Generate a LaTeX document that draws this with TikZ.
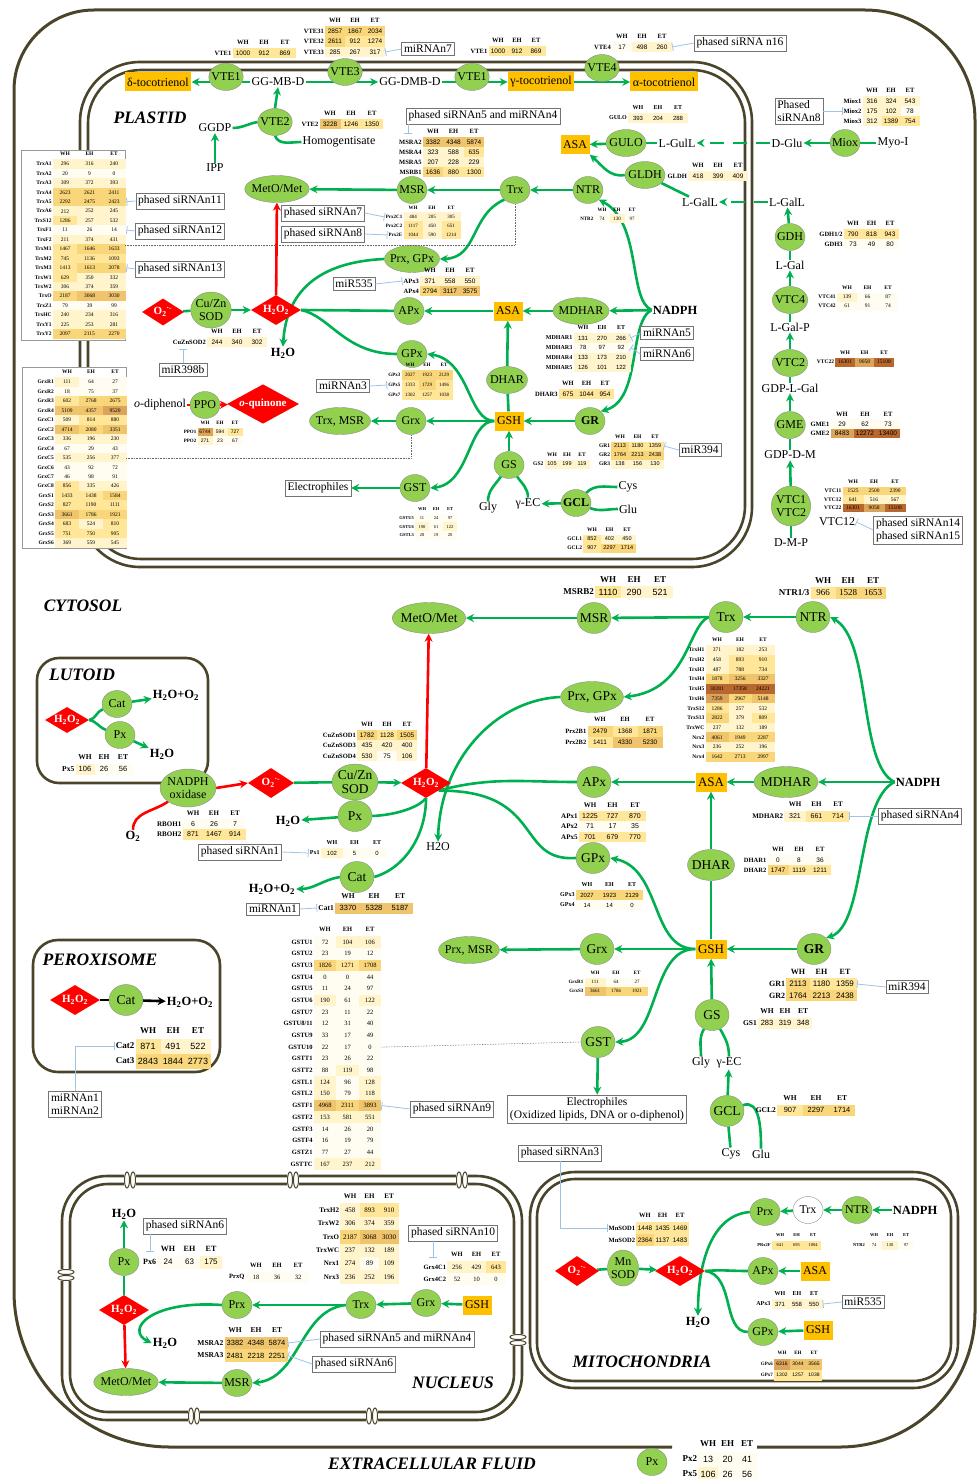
\documentclass[tikz,border=0pt]{standalone}
\usepackage{fontspec}
\setmainfont{Liberation Serif}
\setsansfont{Liberation Sans}
\usetikzlibrary{shapes.geometric,arrows.meta}
\pgfdeclarelayer{memb}
\pgfdeclarelayer{back}
\pgfsetlayers{memb,back,main}

\definecolor{lgr}{HTML}{92D050}
\definecolor{dgr}{HTML}{00B050}
\definecolor{org}{HTML}{FFC000}
\definecolor{mbc}{HTML}{4A452A}
\definecolor{inhc}{HTML}{9DC3E6}
\definecolor{hmA}{HTML}{FFFDF2}
\definecolor{hmB}{HTML}{FFF4CC}
\definecolor{hmC}{HTML}{FFE699}
\definecolor{hmD}{HTML}{FAD67A}
\definecolor{hmE}{HTML}{F0C46C}
\definecolor{hmF}{HTML}{DCA45A}
\definecolor{hmG}{HTML}{B8682E}

% heat colour of one value
\newcommand{\hmcol}[1]{%
  \ifnum#1<100\relax\def\hmc{hmA}%
  \else\ifnum#1<600\relax\def\hmc{hmB}%
  \else\ifnum#1<1500\relax\def\hmc{hmC}%
  \else\ifnum#1<3000\relax\def\hmc{hmD}%
  \else\ifnum#1<6000\relax\def\hmc{hmE}%
  \else\ifnum#1<12000\relax\def\hmc{hmF}%
  \else\def\hmc{hmG}\fi\fi\fi\fi\fi\fi}

% name, x of WH column, y of first row, column width, row height, font size, family, rows
\newcommand{\hmtab}[8]{%
  \foreach \hd [count=\k from 0] in {WH,EH,ET}
    \node[inner sep=0pt,font={\fontsize{#6}{#6}\selectfont\bfseries}] at ({#2+\k*#4},{#3-#5-0.5}) {\hd};
  \foreach \lab/\va/\vb/\vc [count=\i] in {#8} {
    \pgfmathsetmacro\yy{#3+(\i-1)*#5}
    \node[anchor=east,inner sep=1pt,font={\fontsize{#6}{#6}\selectfont\bfseries}] (#1-l\i) at ({#2-#4/2},\yy) {\lab};
    \hmcol{\va}
    \node[hmcell,fill=\hmc,minimum width=#4,minimum height=#5,font={#7\fontsize{#6}{#6}\selectfont}] at (#2,\yy) {\va};
    \hmcol{\vb}
    \node[hmcell,fill=\hmc,minimum width=#4,minimum height=#5,font={#7\fontsize{#6}{#6}\selectfont}] at ({#2+#4},\yy) {\vb};
    \hmcol{\vc}
    \node[hmcell,fill=\hmc,minimum width=#4,minimum height=#5,font={#7\fontsize{#6}{#6}\selectfont}] (#1-\i) at ({#2+2*#4},\yy) {\vc};
  }}

\begin{document}
\begin{tikzpicture}[x=1pt,y=-1pt,
  en/.style={ellipse,draw=black!45,fill=lgr,inner xsep=-2.5pt,inner ysep=0pt,minimum width=30,minimum height=27,font=\fontsize{12}{13}\selectfont},
  enb/.style={en,font=\fontsize{12}{13}\selectfont\bfseries},
  cen/.style={en,minimum width=34,minimum height=31,font=\fontsize{13.5}{14}\selectfont},
  ros/.style={diamond,aspect=1.6,fill=red,text=white,inner sep=0pt,minimum width=50,minimum height=30,font=\fontsize{11}{12}\selectfont\bfseries},
  sub/.style={rectangle,fill=org,inner sep=2.5pt,minimum height=19,font=\fontsize{12}{13}\selectfont},
  met/.style={inner sep=1pt,font=\fontsize{12}{13}\selectfont},
  metb/.style={inner sep=1pt,font=\fontsize{12.5}{13}\selectfont\bfseries},
  sir/.style={rectangle,draw=black!55,fill=white,inner sep=2.5pt,align=left,font=\fontsize{11.5}{13}\selectfont},
  comp/.style={font=\fontsize{17.5}{18}\selectfont\bfseries\itshape},
  ga/.style={draw=dgr,line width=2.6pt,-{Stealth[length=8pt,width=8pt]}},
  gl/.style={draw=dgr,line width=2.6pt},
  gd/.style={ga,dash pattern=on 14pt off 9pt},
  ra/.style={draw=red,line width=2.6pt,-{Stealth[length=8pt,width=8pt]}},
  rl/.style={draw=red,line width=2.6pt},
  ka/.style={draw=black,line width=2.6pt,-{Stealth[length=8pt,width=8pt]}},
  inh/.style={draw=inhc,line width=0.8pt,-{Bar[width=8pt]}},
  dotl/.style={draw=black!60,densely dotted,line width=0.6pt},
  mb/.style={draw=mbc,line width=2.6pt},
  hmcell/.style={rectangle,inner sep=0pt}]
\useasboundingbox (0,0) rectangle (977,1479);

\begin{pgfonlayer}{memb}
  % cell
  \draw[mb,line width=3pt] (757,1447) -- (840,1447) arc[start angle=90,end angle=0,radius=135] -- (975,120)
    arc[start angle=0,end angle=-90,radius=110] -- (94,10) arc[start angle=270,end angle=180,radius=80]
    -- (14,1291) arc[start angle=180,end angle=90,radius=156] -- (672,1447);
  % plastid
  \draw[mb,rounded corners=60] (80,62) rectangle (752,567);
  \draw[mb,rounded corners=53] (88,70) rectangle (745,559);
  % nucleus
  \draw[mb,rounded corners=45] (62,1176) rectangle (522,1420);
  \draw[mb,rounded corners=38] (70,1184) rectangle (514,1412);
  \foreach \px in {130,293,462} {
    \fill[white] (\px-6,1171) rectangle (\px+6,1189);
    \draw[mbc,line width=1pt] (\px-3,1180) ellipse (2.5 and 8) (\px+3,1180) ellipse (2.5 and 8);
  }
  \foreach \px in {194,372} {
    \fill[white] (\px-6,1407) rectangle (\px+6,1425);
    \draw[mbc,line width=1pt] (\px-3,1416) ellipse (2.5 and 8) (\px+3,1416) ellipse (2.5 and 8);
  }
  \foreach \px/\py in {66/1275,518/1340} {
    \fill[white] (\px-9,\py-6) rectangle (\px+9,\py+6);
    \draw[mbc,line width=1pt] (\px,\py-3) ellipse (8 and 2.5) (\px,\py+3) ellipse (8 and 2.5);
  }
  % mitochondria
  \draw[mb,rounded corners=45] (530,1172) rectangle (958,1388);
  \draw[mb,rounded corners=38] (537,1179) rectangle (951,1381);
  % lutoid, peroxisome
  \draw[mb,rounded corners=22] (37,658) rectangle (208,783);
  \draw[mb,rounded corners=25] (33,940) rectangle (220,1072);
\end{pgfonlayer}

% plastid
\node[comp] (plastid) at (150,118) {PLASTID};
\node[sub] (dtoc) at (158,82) {δ-tocotrienol};
\node[en] (vtea) at (226,77) {VTE1};
\node[met] (ggmb) at (278,82) {GG-MB-D};
\node[en] (vtec) at (345,72) {VTE3};
\node[met] (ggdmb) at (410,82) {GG-DMB-D};
\node[en] (vteb) at (472,77) {VTE1};
\node[sub] (gtoc) at (541,82) {γ-tocotrienol};
\node[en] (vted) at (602,68) {VTE4};
\node[sub] (atoc) at (664,82) {α-tocotrienol};
\node[met] (ggdp) at (215,128) {GGDP};
\node[met] (ipp) at (215,168) {IPP};
\node[en] (vte2) at (275,122) {VTE2};
\node[met] (homo) at (339,142) {Homogentisate};
\node[sir] (mir7) at (428,49) {miRNAn7};
\node[sir] (sir16) at (740,43) {phased siRNA n16};

\node[en,minimum width=60] (pmet) at (277,189) {MetO/Met};
\node[en] (pmsr) at (412,190) {MSR};
\node[en] (ptrx) at (515,190) {Trx};
\node[en] (pntr) at (588,190) {NTR};
\node[sir] (sir7) at (323,213) {phased siRNAn7};
\node[sir] (sir8) at (323,234) {phased siRNAn8};
\node[sir] (sir5p) at (483,116) {phased siRNAn5 and miRNAn4};
\node[sir] (sir11) at (180,201) {phased siRNAn11};
\node[sir] (sir12) at (180,231) {phased siRNAn12};
\node[sir] (sir13) at (180,269) {phased siRNAn13};
\node[en] (pprg) at (412,259) {Prx, GPx};
\node[sir] (mir535p) at (354,284) {miR535};
\node[en] (papx) at (409,311) {APx};
\node[sub] (pasa) at (508,311) {ASA};
\node[en] (pmdhar) at (581,311) {MDHAR};
\node[metb] (pnadph) at (675,310) {NADPH};
\node[sir] (mir5) at (667,333) {miRNAn5};
\node[sir] (mir6) at (667,354) {miRNAn6};
\node[en] (pgpx) at (412,354) {GPx};
\node[sir] (mir3) at (343,386) {miRNAn3};
\node[en] (pdhar) at (507,380) {DHAR};
\node[en] (ptm) at (340,421) {Trx, MSR};
\node[en] (pgrx) at (411,421) {Grx};
\node[sub] (pgsh) at (509,421) {GSH};
\node[enb] (pgr) at (590,421) {GR};
\node[sir] (mir394p) at (700,450) {miR394};
\node[en] (pgs) at (509,465) {GS};
\node[met] (pgly) at (488,508) {Gly};
\node[met] (pgec) at (528,504) {γ-EC};
\node[enb] (pgcl) at (576,503) {GCL};
\node[met] (pcys) at (628,487) {Cys};
\node[met] (pglu) at (628,509) {Glu};
\node[en] (pgst) at (415,488) {GST};
\node[sir] (pelec) at (318,488) {Electrophiles};
\node[ros,minimum width=42,minimum height=27] (po2) at (163,312) {O\textsubscript{2}\textsuperscript{·-}};
\node[en,align=center,inner xsep=-1pt,minimum height=36] (psod) at (211,310) {Cu/Zn\\SOD};
\node[ros] (ph2o2) at (276,310) {H\textsubscript{2}O\textsubscript{2}};
\node[metb] (ph2o) at (283,353) {H\textsubscript{2}O};
\node[sir] (mir398) at (183,370) {miR398b};
\node[met] (podi) at (160,405) {\textit{o}-diphenol};
\node[en] (pppo) at (205,405) {PPO};
\node[ros,minimum width=72,minimum height=30] (poq) at (263,404) {\textit{o}-quinone};

\node[sub] (asaa) at (575,145) {ASA};
\node[en] (gulo) at (626,143) {GULO};
\node[met] (lgull) at (677,143) {L-GulL};
\node[en] (gldh) at (645,175) {GLDH};
\node[met] (lgall) at (700,202) {L-GalL};
\node[met] (dglu) at (787,143) {D-Glu};
\node[en] (miox) at (845,143) {Miox};
\node[met] (myoi) at (893,143) {Myo-I};
\node[sir] (sir8p) at (799,111) {Phased\\siRNAn8};
\node[met] (lgallo) at (787,202) {L-GalL};
\node[en] (gdh) at (790,237) {GDH};
\node[met] (lgal) at (790,265) {L-Gal};
\node[en] (vtcf) at (790,300) {VTC4};
\node[met] (lgalp) at (790,327) {L-Gal-P};
\node[en] (vtcb) at (790,363) {VTC2};
\node[met] (gdplg) at (790,388) {GDP-L-Gal};
\node[en] (gme) at (790,425) {GME};
\node[met] (gdpdm) at (790,455) {GDP-D-M};
\node[en,align=center,inner xsep=-1pt,minimum height=40] (vtca) at (791,506) {VTC1\\VTC2};
\node[met] (dmp) at (791,543) {D-M-P};
\node[met] (vtctxt) at (837,522) {VTC12};
\node[sir] (sir14) at (918,530) {phased siRNAn14\\phased siRNAn15};

% cytosol
\node[comp] (cyto) at (83,606) {CYTOSOL};
\node[cen,minimum width=66] (cmet) at (429,618) {MetO/Met};
\node[cen] (cmsr) at (594,618) {MSR};
\node[cen] (ctrx) at (726,617) {Trx};
\node[cen] (cntr) at (813,617) {NTR};
\node[cen] (cprg) at (592,697) {Prx, GPx};
\node[cen] (capx) at (594,782) {APx};
\node[sub,font=\fontsize{13}{14}\selectfont] (casa) at (711,782) {ASA};
\node[cen] (cmdhar) at (786,782) {MDHAR};
\node[metb] (cnadph) at (918,782) {NADPH};
\node[sir] (sir4) at (920,816) {phased siRNAn4};
\node[cen] (cdhar) at (711,865) {DHAR};
\node[cen] (cgpx) at (593,858) {GPx};
\node[cen] (cgrx) at (597,949) {Grx};
\node[en] (cpm) at (469,950) {Prx, MSR};
\node[sub,font=\fontsize{13}{14}\selectfont] (cgsh) at (711,949) {GSH};
\node[cen,font=\fontsize{13.5}{14}\selectfont\bfseries] (cgr) at (814,949) {GR};
\node[sir] (mir394c) at (907,987) {miR394};
\node[cen] (cgs) at (712,1015) {GS};
\node[met] (cgly) at (701,1063) {Gly};
\node[met] (cgec) at (729,1063) {γ-EC};
\node[cen] (cgcl) at (727,1111) {GCL};
\node[met] (ccys) at (731,1154) {Cys};
\node[met] (cglu) at (761,1154) {Glu};
\node[cen] (cgst) at (598,1042) {GST};
\node[sir,align=center] (celec) at (597,1109) {Electrophiles\\(Oxidized lipids, DNA or o-diphenol)};
\node[sir] (sir9) at (452,1109) {phased siRNAn9};
\node[sir] (sir3) at (560,1153) {phased siRNAn3};
\node[ros] (ch2o2) at (426,783) {H\textsubscript{2}O\textsubscript{2}};
\node[cen,align=center,inner xsep=-1pt,minimum height=36] (csod) at (355,782) {Cu/Zn\\SOD};
\node[ros,minimum width=46] (co2) at (271,783) {O\textsubscript{2}\textsuperscript{·-}};
\node[en,align=center,inner xsep=-1pt,minimum height=38,minimum width=56] (cnox) at (188,788) {NADPH\\oxidase};
\node[metb] (co2t) at (133,836) {O\textsubscript{2}};
\node[cen] (cpx) at (355,816) {Px};
\node[metb] (ch2ob) at (288,821) {H\textsubscript{2}O};
\node[sir] (sir1) at (240,852) {phased siRNAn1};
\node[cen] (ccat) at (357,877) {Cat};
\node[metb] (ch2oo) at (272,889) {H\textsubscript{2}O+O\textsubscript{2}};
\node[sir] (mirn1) at (273,909) {miRNAn1};
\node[met] (ch2oc) at (438,847) {H2O};

% lutoid
\node[comp] (lutoid) at (82,675) {LUTOID};
\node[ros,minimum width=44,minimum height=26] (lh2o2) at (67,720) {H\textsubscript{2}O\textsubscript{2}};
\node[en] (lcat) at (117,704) {Cat};
\node[metb] (lh2oo) at (176,695) {H\textsubscript{2}O+O\textsubscript{2}};
\node[en] (lpx) at (120,735) {Px};
\node[metb] (lh2o) at (162,754) {H\textsubscript{2}O};

% peroxisome
\node[comp] (perox) at (100,960) {PEROXISOME};
\node[ros] (xh2o2) at (75,1000) {H\textsubscript{2}O\textsubscript{2}};
\node[cen] (xcat) at (126,1000) {Cat};
\node[metb] (xh2oo) at (190,1002) {H\textsubscript{2}O+O\textsubscript{2}};
\node[sir] (xmir) at (75,1104) {miRNAn1\\miRNAn2};

% nucleus
\node[comp] (nucl) at (453,1383) {NUCLEUS};
\node[metb] (nh2oa) at (124,1214) {H\textsubscript{2}O};
\node[en] (npx) at (124,1262) {Px};
\node[sir] (sir6a) at (185,1226) {phased siRNAn6};
\node[ros] (nh2o2) at (124,1310) {H\textsubscript{2}O\textsubscript{2}};
\node[en,minimum width=64] (nmet) at (126,1382) {MetO/Met};
\node[en] (nmsr) at (237,1383) {MSR};
\node[en] (nprx) at (237,1305) {Prx};
\node[metb] (nh2ob) at (165,1343) {H\textsubscript{2}O};
\node[en] (ntrx) at (361,1305) {Trx};
\node[en] (ngrx) at (426,1303) {Grx};
\node[sub] (ngsh) at (477,1305) {GSH};
\node[sir] (sir10) at (453,1233) {phased siRNAn10};
\node[sir] (sir5n) at (397,1339) {phased siRNAn5 and miRNAn4};
\node[sir] (sir6b) at (354,1364) {phased siRNAn6};

% mitochondria
\node[comp] (mito) at (642,1362) {MITOCHONDRIA};
\node[ros,minimum width=44] (mo2) at (577,1271) {O\textsubscript{2}\textsuperscript{·-}};
\node[en,align=center,inner xsep=-1pt,minimum height=36] (msod) at (623,1268) {Mn\\SOD};
\node[ros] (mh2o2) at (680,1271) {H\textsubscript{2}O\textsubscript{2}};
\node[metb] (mh2o) at (698,1322) {H\textsubscript{2}O};
\node[en] (mprx) at (765,1212) {Prx};
\node[en,fill=white] (mtrx) at (808,1210) {Trx};
\node[en] (mntr) at (857,1210) {NTR};
\node[metb] (mnadph) at (915,1210) {NADPH};
\node[en] (mapx) at (763,1271) {APx};
\node[sub] (masa) at (815,1271) {ASA};
\node[sir] (mir535m) at (863,1302) {miR535};
\node[en] (mgpx) at (763,1332) {GPx};
\node[sub] (mgsh) at (818,1330) {GSH};

% extracellular
\node[comp] (extra) at (432,1464) {EXTRACELLULAR FLUID};
\node[en] (epx) at (652,1462) {Px};

% tables
\hmtab{tvteA}{243}{53}{21}{10}{6.5}{\sffamily}{VTE1/1000/912/869}
\hmtab{tvteC}{335}{31}{20}{10.5}{6.5}{\sffamily}{VTE31/2857/1867/2034,VTE32/2611/912/1274,VTE33/285/267/317}
\hmtab{tvteB}{498}{51}{19}{10}{6.5}{\sffamily}{VTE1/1000/912/869}
\hmtab{tvteD}{622}{47}{20}{10}{6.5}{\sffamily}{VTE4/17/498/260}
\hmtab{tvteE}{330}{124}{21}{10}{6.5}{\sffamily}{VTE2/3228/1246/1350}
\draw[black!40,fill=white] (21,150) rectangle (125,340);
\hmtab{ttrxp}{65}{164}{24.5}{9.44}{5.5}{\rmfamily}{TrxA1/296/316/240,TrxA2/20/9/0,TrxA3/309/372/393,TrxA4/2623/2621/2411,TrxA5/2292/2475/2423,TrxA6/212/252/245,TrxS12/1286/257/532,TrxF1/11/26/14,TrxF2/211/374/431,TrxM1/1467/1646/1633,TrxM2/745/1136/1093,TrxM3/1413/1613/2078,TrxW1/629/350/332,TrxW2/306/374/359,TrxO/2187/3068/3030,TrxZ1/79/39/99,TrxHC/240/234/316,TrxY1/225/253/281,TrxY2/2097/2115/2270}
\draw[black!40,fill=white] (22,367) rectangle (126,548);
\hmtab{tgrxp}{67}{382}{24}{9.47}{5.5}{\rmfamily}{GrxR1/111/64/27,GrxR2/18/75/37,GrxR3/602/2768/2675,GrxR4/5109/4357/9520,GrxC1/509/814/880,GrxC2/4714/2080/3351,GrxC3/336/196/230,GrxC4/67/29/43,GrxC5/535/256/377,GrxC6/43/92/72,GrxC7/46/98/91,GrxC8/856/335/426,GrxS1/1433/1438/1584,GrxS2/827/1190/1111,GrxS3/3661/1786/1921,GrxS4/683/524/810,GrxS5/751/750/905,GrxS6/369/559/545}
\hmtab{tprxc}{413}{217}{19}{9}{5}{\rmfamily}{Prx2C1/484/205/305,Prx2C2/1117/450/651,Prx2E/1044/590/1214}
\hmtab{tmsra}{433}{142}{20.5}{10}{6.5}{\sffamily}{MSRA2/3382/4348/5874,MSRA4/323/588/635,MSRA5/207/228/229,MSRB1/1636/880/1300}
\hmtab{tntrp}{602}{219}{15}{9}{5}{\rmfamily}{NTR2/74/130/97}
\hmtab{tapxp}{430}{281}{20}{10}{6.5}{\sffamily}{APx3/371/558/550,APx4/2794/3117/3575}
\hmtab{tmdp}{583}{338}{19}{9.7}{6}{\sffamily}{MDHAR1/131/270/266,MDHAR3/78/97/92,MDHAR4/133/173/210,MDHAR5/126/101/122}
\hmtab{tgpxp}{410}{375}{17}{10}{5}{\rmfamily}{GPx3/2027/1923/2129,GPx5/1333/1729/1496,GPx7/1302/1257/1038}
\hmtab{tdhp}{568}{394}{18.5}{10}{6.5}{\sffamily}{DHAR3/675/1044/954}
\hmtab{tgrp}{620}{446}{17.5}{9}{5.5}{\sffamily}{GR1/2113/1180/1359,GR2/1764/2213/2438,GR3/138/156/130}
\hmtab{tgsp}{552}{464}{15}{9}{5.5}{\sffamily}{GS2/105/199/119}
\hmtab{tgclp}{592}{539}{17.5}{9}{5.5}{\sffamily}{GCL1/852/402/450,GCL2/907/2297/1714}
\hmtab{tgstp}{422}{518}{14}{8.7}{4.5}{\rmfamily}{GSTU5/11/24/97,GSTU6/190/61/122,GSTL3/28/19/20}
\hmtab{tsodp}{217}{342}{20}{10}{6.5}{\sffamily}{CuZnSOD2/244/340/302}
\hmtab{tppo}{205}{432}{15}{8.5}{5}{\sffamily}{PPO1/6744/594/727,PPO2/271/23/67}
\hmtab{tmiox}{872}{101}{19}{10}{6.5}{\sffamily}{Miox1/316/324/543,Miox2/175/102/78,Miox3/312/1389/754}
\hmtab{tgulo}{638}{118}{20}{10}{6}{\sffamily}{GULO/393/204/288}
\hmtab{tgldh}{698}{176}{20}{10}{6.5}{\sffamily}{GLDH/418/399/409}
\hmtab{tgdh}{853}{234}{18.5}{10}{6.5}{\sffamily}{{GDH1/2}/790/818/943,GDH3/73/49/80}
\hmtab{tvtcf}{847}{297}{20.5}{9}{5.5}{\rmfamily}{VTC41/139/66/87,VTC42/61/91/74}
\hmtab{tvtcb}{845}{362}{19.5}{9}{5.5}{\rmfamily}{VTC22/16301/9058/15108}
\hmtab{tgme}{842}{424}{23}{9.5}{6.5}{\sffamily}{GME1/29/62/73,GME2/8483/12272/13400}
\hmtab{tvtca}{853}{491}{21}{8.5}{5.5}{\rmfamily}{VTC11/1525/2500/2390,VTC12/641/516/567,VTC22/16301/9058/15108}

\hmtab{tmsrb}{608}{592}{26}{12}{9}{\sffamily}{MSRB2/1110/290/521}
\hmtab{tntrc}{823}{593}{25}{12}{9}{\rmfamily}{{NTR1/3}/966/1528/1653}
\hmtab{ttrxc}{717}{650}{23}{9.7}{5.5}{\rmfamily}{TrxH1/371/182/253,TrxH2/458/893/910,TrxH3/487/788/734,TrxH4/1878/3256/3327,TrxH5/30281/17358/24221,TrxH6/7359/2967/5148,TrxS12/1286/257/532,TrxS13/2822/379/809,TrxWC/237/132/189,Nrx2/4061/1949/2287,Nrx3/236/252/196,Nrx4/1642/2713/2997}
\hmtab{tprxb}{600}{731}{25}{11}{6.5}{\sffamily}{Prx2B1/2479/1368/1871,Prx2B2/1411/4330/5230}
\hmtab{tapxc}{590}{816}{22.5}{10.5}{7}{\sffamily}{APx1/1225/727/870,APx2/71/17/35,APx5/701/679/770}
\hmtab{tmdc}{795}{816}{21.5}{11}{7}{\sffamily}{MDHAR2/321/661/714}
\hmtab{tdhc}{778}{860}{21}{10}{6.5}{\sffamily}{DHAR1/0/8/36,DHAR2/1747/1119/1211}
\hmtab{tgpxc}{587}{895}{22.5}{10}{6}{\sffamily}{GPx3/2027/1923/2129,GPx4/14/14/0}
\hmtab{tgrxc}{595}{982}{21}{9}{5}{\rmfamily}{GrxR1/111/64/27,GrxS3/3661/1786/1921}
\hmtab{tgrc}{798}{984}{23.5}{11.5}{8}{\sffamily}{GR1/2113/1180/1359,GR2/1764/2213/2438}
\hmtab{tgsc}{767}{1023}{18}{11}{7.5}{\sffamily}{GS1/283/319/348}
\hmtab{tgclc}{790}{1110}{26}{11}{7.5}{\sffamily}{GCL2/907/2297/1714}
\hmtab{tsodc}{367}{735}{20}{10.5}{6.5}{\sffamily}{CuZnSOD1/1782/1128/1505,CuZnSOD3/435/420/400,CuZnSOD4/530/75/106}
\hmtab{tpxa}{332}{853}{22.5}{10}{6}{\sffamily}{Px1/102/5/0}
\hmtab{tcata}{348}{908}{26}{11}{7.5}{\sffamily}{Cat1/3370/5328/5187}
\hmtab{trboh}{193}{824}{21}{10.5}{7}{\sffamily}{RBOH1/6/26/7,RBOH2/871/1467/914}
\hmtab{tgstc}{325}{942}{22.5}{11.68}{6.5}{\rmfamily}{GSTU1/72/104/106,GSTU2/23/19/12,GSTU3/1826/1271/1708,GSTU4/0/0/44,GSTU5/11/24/97,GSTU6/190/61/122,GSTU7/23/11/22,{GSTU8/11}/12/31/40,GSTU9/33/17/49,GSTU10/22/17/0,GSTT1/23/26/22,GSTT2/88/119/98,GSTL1/124/96/128,GSTL2/150/79/118,GSTF1/4968/2311/3893,GSTF2/153/581/551,GSTF3/14/26/20,GSTF4/16/19/79,GSTZ1/77/27/44,GSTTC/167/237/212}
\hmtab{tpxl}{85}{769}{19}{11}{7.5}{\sffamily}{Px5/106/26/56}
\hmtab{tcatb}{148}{1046}{25}{15}{9}{\sffamily}{Cat2/871/491/522,Cat3/2843/1844/2773}
\hmtab{tpxn}{168}{1262}{21.5}{13}{8}{\sffamily}{Px6/24/63/175}
\hmtab{tprxq}{256}{1277}{21}{11}{6.5}{\rmfamily}{PrxQ/18/36/32}
\hmtab{tmsran}{235}{1343}{21}{12.5}{7.5}{\sffamily}{MSRA2/3382/4348/5874,MSRA3/2481/2218/2251}
\hmtab{ttrxn}{350}{1210}{19.5}{13.4}{7}{\rmfamily}{TrxH2/458/893/910,TrxW2/306/374/359,TrxO/2187/3068/3030,TrxWC/237/132/189,Nrx1/274/89/109,Nrx3/236/252/196}
\hmtab{tgrxn}{457}{1267}{19.5}{12}{6.5}{\rmfamily}{Grx4C1/256/429/643,Grx4C2/52/10/0}
\hmtab{tmnsod}{645}{1228}{17.5}{12}{6.5}{\sffamily}{MnSOD1/1448/1435/1469,MnSOD2/2364/1137/1483}
\hmtab{tprxf}{780}{1245}{16.5}{9}{4.5}{\rmfamily}{PRx2F/641/695/1004}
\hmtab{tntrm}{874}{1245}{16}{9}{4.5}{\rmfamily}{NTR2/74/130/97}
\hmtab{tapxm}{780}{1304}{17}{10}{6}{\sffamily}{APx3/371/558/550}
\hmtab{tgpxm}{782}{1364}{16}{11}{5}{\sffamily}{GPx6/6316/3044/3565,GPx7/1302/1257/1038}
\hmtab{tpxe}{708}{1459}{19.5}{15}{9}{\sffamily}{Px2/13/20/41,Px5/106/26/56}

\begin{pgfonlayer}{back}
  % plastid
  \draw[ga] (ggmb) -- (dtoc);
  \draw[ga] (ggmb) -- (ggdmb);
  \draw[ga] (ggdmb) -- (gtoc);
  \draw[ga] (gtoc) -- (atoc);
  \draw[ga] (ipp) -- (ggdp);
  \draw[gl] (ggdp.east) to[out=0,in=190] (vte2.west);
  \draw[gl] (homo.west) to[out=180,in=-70] (vte2.south);
  \draw[ga] (vte2.north) -- (ggmb.south);
  \draw[ga] (pntr) -- (ptrx);
  \draw[ga] (ptrx) -- (pmsr);
  \draw[ga] (pmsr) -- (pmet);
  \draw[ra] (ph2o2) -- (pmet);
  \draw[ga] (ptrx.south west) .. controls (470,215) and (478,258) .. (pprg.east);
  \draw[ga] (pnadph.west) .. controls (628,300) and (642,222) .. (pntr.south east);
  \draw[ga] (pnadph) -- (pmdhar);
  \draw[ga] (pmdhar) -- (pasa);
  \draw[ga] (pasa) -- (papx);
  \draw[gl] (papx) -- (ph2o2.east);
  \draw[ga] (pprg.west) .. controls (318,262) and (286,292) .. (ph2o.north);
  \draw[gl] (pgpx.west) .. controls (345,354) and (330,316) .. (ph2o2.east);
  \draw[ga] (pdhar) -- (pasa);
  \draw[gl] (pgsh) -- (pdhar);
  \draw[ga] (pgr) -- (pgsh);
  \draw[ga] (pnadph.west) .. controls (628,322) and (642,400) .. (pgr.north east);
  \draw[ga] (pgsh) -- (pgrx);
  \draw[ga] (pgrx) -- (ptm);
  \draw[ga] (pgsh.west) .. controls (468,421) and (470,360) .. (pgpx.east);
  \draw[ga] (pgsh.west) .. controls (468,421) and (470,484) .. (pgst.east);
  \draw[ga] (pgst) -- (pelec);
  \draw[ga] (pgs) -- (pgsh);
  \draw[gl] (pgly.north) to[out=90,in=235] (pgs);
  \draw[gl] (pgec.north) to[out=90,in=305] (pgs);
  \draw[ga] (pgcl) -- (pgec);
  \draw[gl] (pcys.west) to[out=180,in=45] (pgcl);
  \draw[gl] (pglu.west) to[out=180,in=-20] (pgcl);
  \draw[gl] (po2) -- (psod);
  \draw[ga] (psod) -- (ph2o2);
  \draw[rl] (podi) -- (pppo);
  \draw[ra] (pppo) -- (poq);
  \draw[gl] (lgull) -- (gulo);
  \draw[ga] (gulo) -- (asaa);
  \draw[gl] (lgall) -- (gldh);
  \draw[ga] (gldh.west) to[out=190,in=-40] (asaa.south east);
  \draw[gl] (myoi) -- (miox);
  \draw[ga] (miox) -- (dglu);
  \draw[gd] (dglu) -- (lgull);
  \draw[gd] (lgallo) -- (lgall);
  \draw[ga] (gdh) -- (lgallo);
  \draw[gl] (lgal) -- (gdh);
  \draw[ga] (vtcf) -- (lgal);
  \draw[gl] (lgalp) -- (vtcf);
  \draw[ga] (vtcb) -- (lgalp);
  \draw[gl] (gdplg) -- (vtcb);
  \draw[ga] (gme) -- (gdplg);
  \draw[gl] (gdpdm) -- (gme);
  \draw[ga] (vtca) -- (gdpdm);
  \draw[gl] (dmp) -- (vtca);
  % cytosol
  \draw[ga] (cntr) -- (ctrx);
  \draw[ga] (ctrx) -- (cmsr);
  \draw[ga] (cmsr) -- (cmet);
  \draw[ra] (ch2o2) -- (cmet);
  \draw[ga] (ctrx.west) .. controls (688,625) and (688,690) .. (cprg.east);
  \draw[ga] (cnadph.west) .. controls (858,765) and (872,640) .. (cntr.east);
  \draw[ga] (cnadph) -- (cmdhar);
  \draw[ga] (cmdhar) -- (casa);
  \draw[ga] (casa) -- (capx);
  \draw[ga] (cnadph.west) .. controls (856,800) and (866,925) .. (cgr.north east);
  \draw[gl] (capx.west) to[out=180,in=15] (ch2o2.south east);
  \draw[ga] (cprg.west) .. controls (495,700) and (440,760) .. (ch2oc.north);
  \draw[gl] (cgpx.west) .. controls (515,862) and (545,790) .. (ch2o2.south east);
  \draw[gl] (ch2o2.south) .. controls (418,808) and (395,815) .. (cpx.east);
  \draw[ga] (cpx) -- (ch2ob);
  \draw[gl] (ch2o2.south) .. controls (426,835) and (405,868) .. (ccat.east);
  \draw[ga] (ccat.west) to[out=190,in=0] (ch2oo.east);
  \draw[gl] (co2) -- (csod);
  \draw[ga] (csod) -- (ch2o2);
  \draw[ra] (cnox.east) -- (co2.west);
  \draw[rl] (co2t.north) to[out=90,in=215] (cnox.south west);
  \draw[ga] (cdhar) -- (casa);
  \draw[gl] (cgsh) -- (cdhar);
  \draw[ga] (cgr) -- (cgsh);
  \draw[ga] (cgsh) -- (cgrx);
  \draw[ga] (cgrx) -- (cpm);
  \draw[ga] (cgsh.west) .. controls (650,949) and (662,868) .. (cgpx.east);
  \draw[ga] (cgsh.west) .. controls (650,949) and (660,1040) .. (cgst.east);
  \draw[ga] (cgst) -- (celec);
  \draw[ga] (cgs) -- (cgsh);
  \draw[gl] (cgly.north) to[out=90,in=240] (cgs);
  \draw[gl] (cgec.north) to[out=90,in=300] (cgs);
  \draw[ga] (cgcl) -- (cgec);
  \draw[gl] (ccys) -- (cgcl);
  \draw[gl] (cglu.north) to[out=90,in=20] (cgcl);
  % lutoid, peroxisome
  \draw[gl] (lh2o2.east) to[out=10,in=200] (lcat);
  \draw[gl] (lh2o2.east) to[out=-10,in=160] (lpx);
  \draw[ga] (lcat) -- (lh2oo);
  \draw[ga] (lpx) -- (lh2o);
  \draw[black,line width=2.6pt] (xh2o2) -- (xcat);
  \draw[ka] (xcat) -- (xh2oo);
  % nucleus
  \draw[ga] (npx) -- (nh2oa);
  \draw[gl] (nh2o2) -- (npx);
  \draw[ra] (nh2o2) -- (nmet);
  \draw[ga] (nprx.west) .. controls (150,1300) and (125,1330) .. (nh2ob.west);
  \draw[ga] (ntrx) -- (nprx);
  \draw[ga] (ntrx.west) .. controls (300,1310) and (300,1378) .. (nmsr.east);
  \draw[ga] (nmsr) -- (nmet);
  \draw[ga] (ngrx) -- (ntrx);
  \draw[ga] (ngsh) -- (ngrx);
  % mitochondria
  \draw[gl] (mo2) -- (msod);
  \draw[ga] (msod) -- (mh2o2);
  \draw[ga] (mnadph) -- (mntr);
  \draw[ga] (mntr) -- (mtrx);
  \draw[ga] (mtrx) -- (mprx);
  \draw[ga] (mprx.west) .. controls (712,1215) and (698,1262) .. (mh2o.north);
  \draw[gl] (mh2o2.east) to[out=5,in=180] (mapx.west);
  \draw[gl] (mh2o2.east) .. controls (735,1275) and (722,1332) .. (mgpx.west);
  \draw[ga] (masa) -- (mapx);
  \draw[ga] (mgsh) -- (mgpx);
\end{pgfonlayer}

% siRNA and miRNA marks
\coordinate (msraT) at (408,134);
\coordinate (sodT) at (183,349);
\coordinate (pxnT) at (150,1252);
\coordinate (grxnT) at (433,1258);
\coordinate (trxD) at (125,245);
\coordinate (grxD) at (126,458);
\draw[inh] (mir7.west) -- (tvteC-3.east);
\draw[inh] (sir16.west) -- (tvteD-1.east);
\draw[inh] (sir11.west) -- (ttrxp-5.east);
\draw[inh] (sir12.west) -- (ttrxp-8.east);
\draw[inh] (sir13.west) -- (ttrxp-12.east);
\draw[inh] (sir7.east) -- (tprxc-l1.west);
\draw[inh] (sir8.east) -- (tprxc-l3.west);
\draw[inh] (sir5p.south -| msraT) -- (msraT);
\draw[inh] (mir535p.east) -- (tapxp-l1.west);
\draw[inh] (mir5.west) -- (tmdp-1.east);
\draw[inh] (mir6.west) -- (tmdp-2.east);
\draw[inh] (mir3.east) -- (tgpxp-l2.west);
\draw[inh] (mir394p.west) -- (tgrp-1.east);
\draw[inh] (mir398.north) -- (sodT);
\draw[inh] (sir8p.east) -- (tmiox-l2.west);
\draw[inh] (sir14.west) -- (vtctxt.east);
\draw[inh] (sir4.west) -- (tmdc-1.east);
\draw[inh] (mir394c.west) -- (tgrc-1.east);
\draw[inh] (sir1.east) -- (tpxa-l1.west);
\draw[inh] (mirn1.east) -- (tcata-l1.west);
\draw[inh] (sir9.west) -- (tgstc-15.east);
\draw[inh] (sir3.south) |- (tmnsod-l1.west);
\draw[inh] (xmir.north) |- (tcatb-l1.west);
\draw[inh] (sir6a.south -| pxnT) -- (pxnT);
\draw[inh] (sir10.south -| grxnT) -- (grxnT);
\draw[inh] (sir5n.west) -- (tmsran-1.east);
\draw[inh] (sir6b.west) -- (tmsran-2.east);
\draw[inh] (mir535m.west) -- (tapxm-1.east);
\draw[dotl] (trxD) -| (ptrx.south);
\draw[dotl] (grxD) -| (pgrx.south);
\draw[dotl] (tgstc-10.east) -- (cgst.west);
\end{tikzpicture}
\end{document}
